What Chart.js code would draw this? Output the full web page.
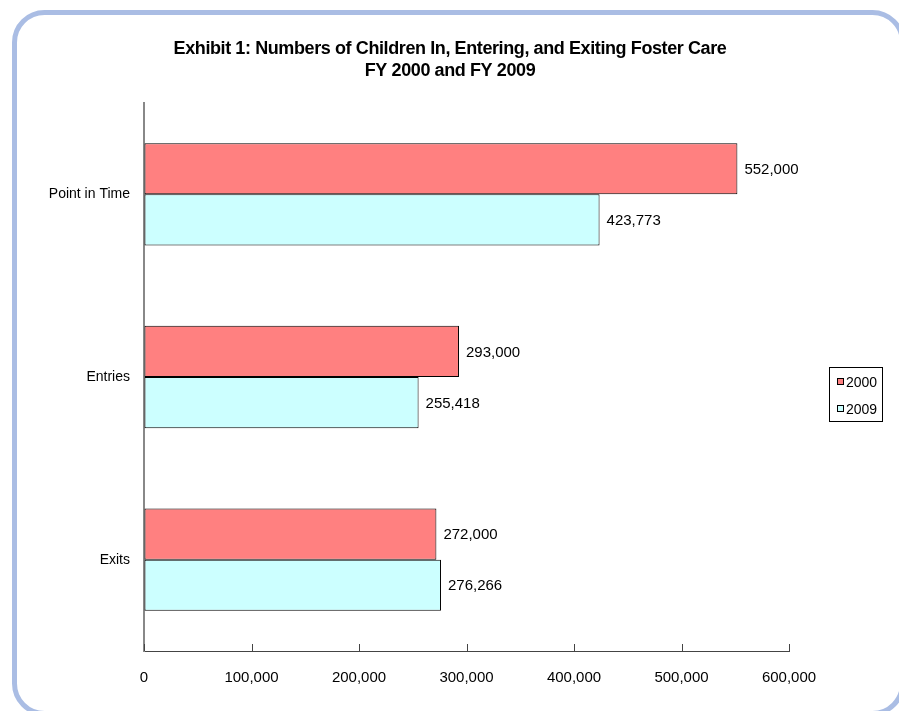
<!DOCTYPE html>
<html>
<head>
<meta charset="utf-8">
<script src="https://cdn.jsdelivr.net/npm/chart.js@4.4.1/dist/chart.umd.min.js"></script>
<style>
  html, body { margin: 0; padding: 0; background: #fff; }
  #wrap { width: 899px; height: 711px; position: relative; }
</style>
</head>
<body>
<div id="wrap"><canvas id="fosterChart"></canvas></div>
<script>
var categories = ["Point in Time", "Entries", "Exits"];
var seriesNames = ["2000", "2009"];
var values2000 = [552000, 293000, 272000];
var values2009 = [423773, 255418, 276266];
var xTicks = [0, 100000, 200000, 300000, 400000, 500000, 600000];
var titleLines = ["Exhibit 1: Numbers of Children In, Entering, and Exiting Foster Care", "FY 2000 and FY 2009"];

var FONT = "'Liberation Sans', Arial, sans-serif";

function fmt(v) {
  return v.toString().replace(/\B(?=(\d{3})+(?!\d))/g, ",");
}

// rounded frame + title + legend + value labels + inside tick marks
var extras = {
  id: 'extras',
  beforeDraw: function(chart) {
    var c = chart.ctx;
    c.save();
    c.strokeStyle = '#AABDE4';
    c.lineWidth = 5;
    c.beginPath();
    c.roundRect(14.5, 12.5, 888, 701, 30);
    c.stroke();
    c.restore();
  },
  afterDraw: function(chart) {
    var c = chart.ctx;
    c.save();
    // title
    c.fillStyle = '#000';
    c.textAlign = 'center';
    c.textBaseline = 'middle';
    c.font = "bold 18px " + FONT;
    c.letterSpacing = '-0.4px';
    c.fillText(titleLines[0], 450, 49);
    c.fillText(titleLines[1], 450, 71);
    c.letterSpacing = '0px';

    // tick marks pointing up from x axis
    var xs = chart.scales.x;
    var bottom = chart.chartArea.bottom;
    c.strokeStyle = '#444';
    c.lineWidth = 1;
    xTicks.forEach(function(t) {
      var px = Math.round(xs.getPixelForValue(t)) + 0.5;
      c.beginPath();
      c.moveTo(px, bottom);
      c.lineTo(px, bottom - 7);
      c.stroke();
    });

    // value labels
    c.font = "15px " + FONT;
    c.textAlign = 'left';
    c.fillStyle = '#000';
    chart.data.datasets.forEach(function(ds, i) {
      chart.getDatasetMeta(i).data.forEach(function(bar, j) {
        c.fillText(fmt(ds.data[j]), bar.x + 7, bar.y + 1);
      });
    });

    // legend box
    c.strokeStyle = '#000';
    c.lineWidth = 1;
    c.strokeRect(829.5, 367.5, 53, 54);
    c.font = "14px " + FONT;
    chart.data.datasets.forEach(function(ds, i) {
      var y = 382 + i * 27;
      c.fillStyle = ds.backgroundColor;
      c.fillRect(837.5, y - 3.5, 6, 6);
      c.strokeRect(837.5, y - 3.5, 6, 6);
      c.fillStyle = '#000';
      c.fillText(ds.label, 846, y + 1);
    });
    c.restore();
  }
};

new Chart(document.getElementById('fosterChart'), {
  type: 'bar',
  data: {
    labels: categories,
    datasets: [
      { label: seriesNames[0], data: values2000, backgroundColor: '#FF8080', borderColor: '#000', borderWidth: 1, borderSkipped: false },
      { label: seriesNames[1], data: values2009, backgroundColor: '#CCFFFF', borderColor: '#000', borderWidth: 1, borderSkipped: false }
    ]
  },
  options: {
    indexAxis: 'y',
    responsive: true,
    maintainAspectRatio: false,
    animation: false,
    categoryPercentage: 0.56,
    barPercentage: 1.0,
    layout: { padding: { top: 103, right: 110, left: 0, bottom: 0 } },
    plugins: {
      legend: { display: false },
      title: { display: false },
      tooltip: { enabled: false }
    },
    scales: {
      x: {
        min: 0,
        max: 600000,
        afterBuildTicks: function(scale) {
          scale.ticks = xTicks.map(function(v) { return { value: v }; });
        },
        afterFit: function(scale) { scale.height = 60; },
        grid: { display: true, drawOnChartArea: false, drawTicks: false },
        border: { display: true, color: '#444', width: 1 },
        ticks: {
          padding: 18,
          color: '#000',
          font: { family: FONT, size: 15 },
          maxRotation: 0,
          callback: function(v) { return fmt(v); }
        }
      },
      y: {
        afterFit: function(scale) { scale.width = 144; },
        grid: { display: false, drawTicks: false },
        border: { display: true, color: '#888', width: 2 },
        ticks: {
          padding: 14,
          color: '#000',
          font: { family: FONT, size: 14 }
        }
      }
    }
  },
  plugins: [extras]
});
</script>
</body>
</html>
